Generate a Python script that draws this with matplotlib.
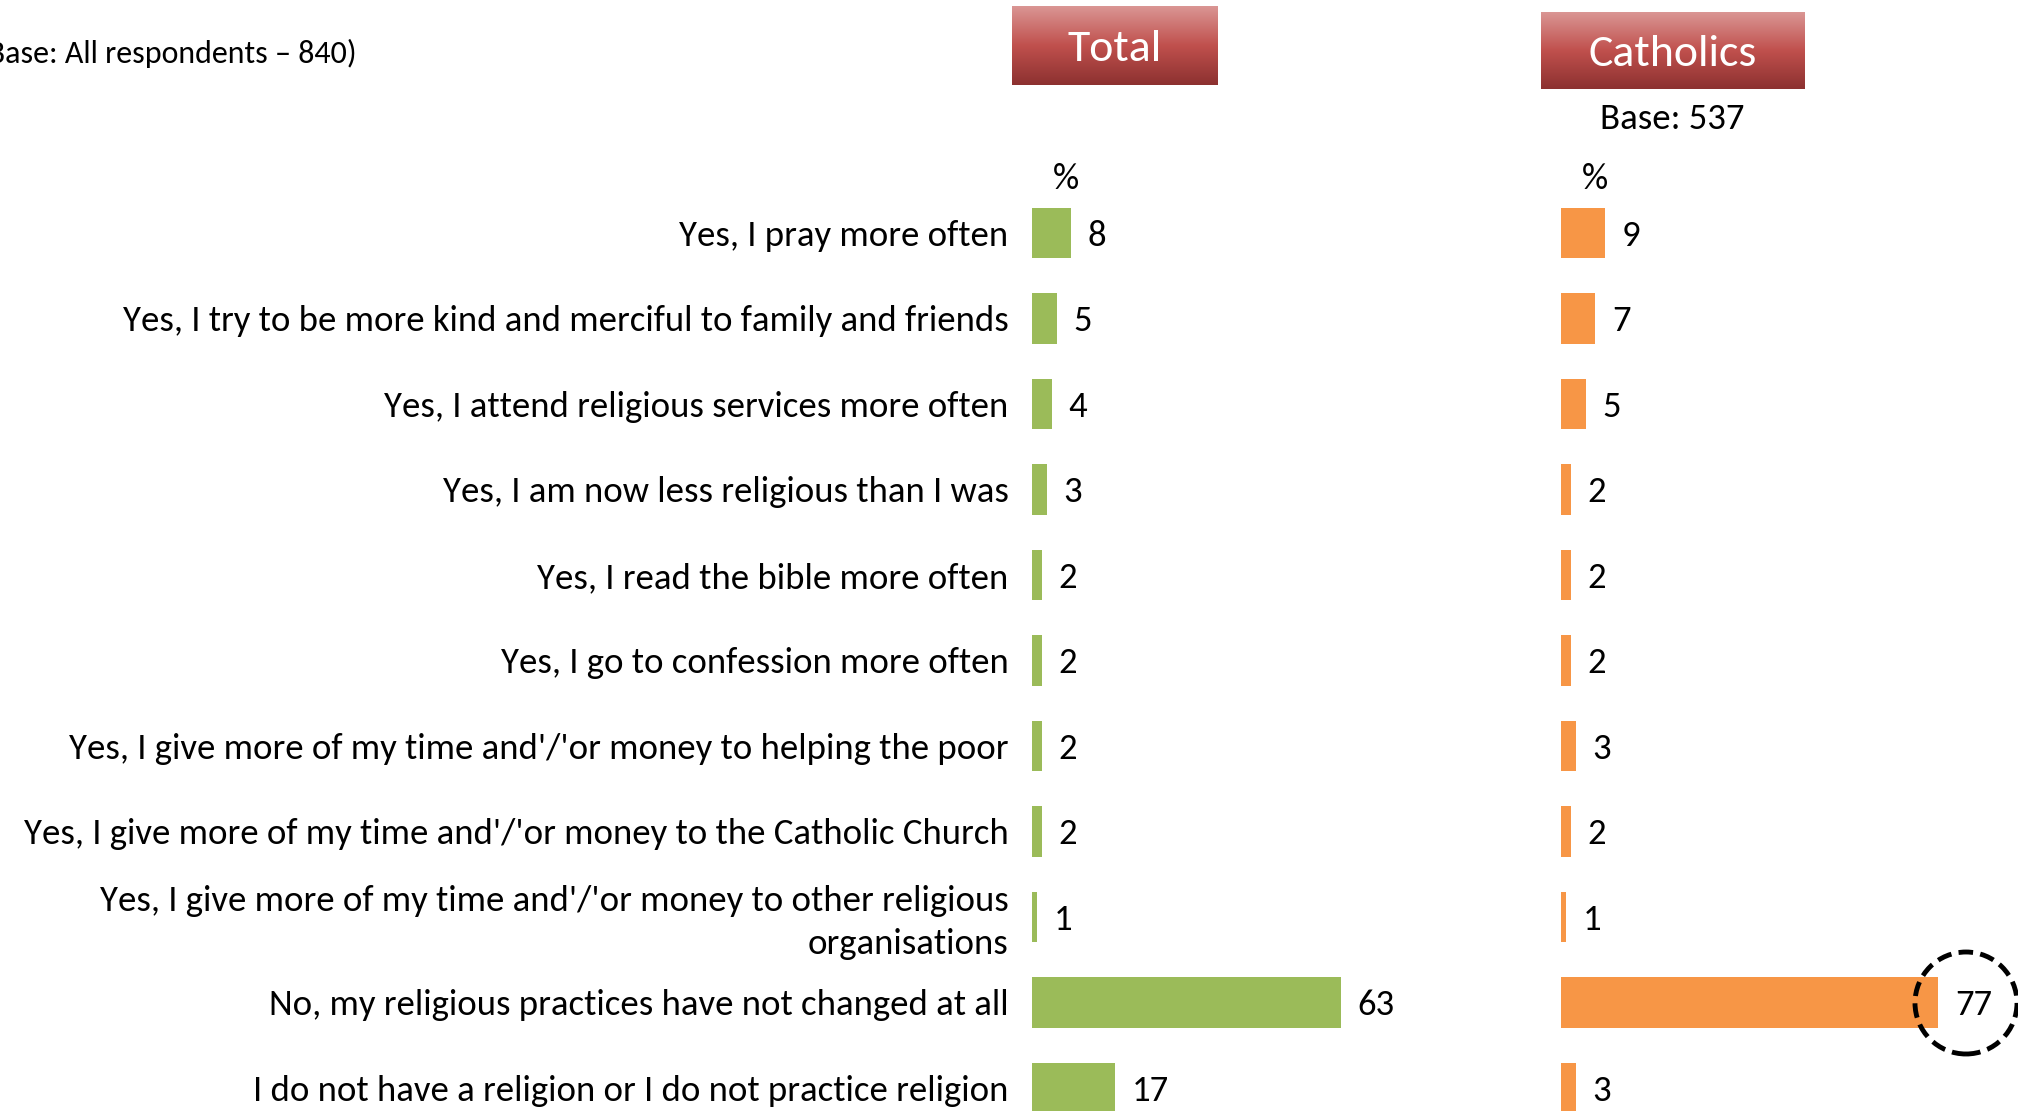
import numpy as np
import matplotlib
matplotlib.use("Agg")
import matplotlib.pyplot as plt
from matplotlib import font_manager
from matplotlib.patches import Ellipse

categories = [
    "Yes, I pray more often",
    "Yes, I try to be more kind and merciful to family and friends",
    "Yes, I attend religious services more often",
    "Yes, I am now less religious than I was",
    "Yes, I read the bible more often",
    "Yes, I go to confession more often",
    "Yes, I give more of my time and'/'or money to helping the poor",
    "Yes, I give more of my time and'/'or money to the Catholic Church",
    "Yes, I give more of my time and'/'or money to other religious\norganisations",
    "No, my religious practices have not changed at all",
    "I do not have a religion or I do not practice religion",
]
total = [8, 5, 4, 3, 2, 2, 2, 2, 1, 63, 17]
catholics = [9, 7, 5, 2, 2, 2, 3, 2, 1, 77, 3]

base_note = "(Base: All respondents \u2013 840)"
catholic_base = "Base: 537"

GREEN = "#9BBB59"
ORANGE = "#F79646"

names = {f.name for f in font_manager.fontManager.ttflist}
FONT = "Carlito" if "Carlito" in names else "Lato"
plt.rcParams["font.family"] = [FONT, "DejaVu Sans"]
FS = 26.5 if FONT == "Carlito" else 24
DY = -2  # small downward nudge so Lato sits like Calibri did

W, H = 2018, 1111
fig = plt.figure(figsize=(W / 100, H / 100), dpi=100)
fig.patch.set_facecolor("white")

px_per_unit = 4.9
row_top, row_step = 233, 85.5
y_top = -row_top / row_step
y_bot = (H - row_top) / row_step


def make_axes(left_px, right_px):
    ax = fig.add_axes([left_px / W, 0, (right_px - left_px) / W, 1])
    ax.set_xlim(0, (right_px - left_px) / px_per_unit)
    ax.set_ylim(y_bot, y_top)
    ax.axis("off")
    return ax


ax1 = make_axes(1032, 1500)
ax2 = make_axes(1561, W)
ypos = np.arange(len(categories))

for ax, vals, color in [(ax1, total, GREEN), (ax2, catholics, ORANGE)]:
    ax.barh(ypos, vals, height=0.585, color=color)
    for y, v in zip(ypos, vals):
        ax.annotate(str(v), xy=(v, y), xytext=(12, DY), textcoords="offset points",
                    ha="left", va="center", fontsize=FS)
    ax.annotate("%", xy=(0, y_top), xytext=(15, -129), textcoords="offset points",
                ha="left", va="center", fontsize=FS)

for y, lab in zip(ypos, categories):
    ax1.annotate(lab, xy=(0, y), xytext=(-17, DY - (2 if "\n" in lab else 0)),
                 textcoords="offset points", ha="right", va="center", ma="right",
                 fontsize=FS, linespacing=1.45, annotation_clip=False)

# header boxes with vertical red gradient
grad = np.linspace(0, 1, 256)[:, None]
cmap = matplotlib.colors.LinearSegmentedColormap.from_list(
    "hdr", ["#DA9694", "#C0504D", "#8C3130"])


def header(x0, x1, y0, y1, text):
    hax = fig.add_axes([x0 / W, 1 - y1 / H, (x1 - x0) / W, (y1 - y0) / H])
    hax.imshow(grad, aspect="auto", cmap=cmap, extent=(0, 1, 0, 1))
    hax.text(0.5, 0.45, text, color="white", fontsize=33, ha="center", va="center",
             transform=hax.transAxes)
    hax.axis("off")


header(1012, 1218, 6, 85, "Total")
header(1541, 1805, 12, 89, "Catholics")

fig.text(1672 / W, 1 - 119 / H, catholic_base, ha="center", va="center", fontsize=FS)
fig.text(-22 / W, 1 - 53 / H, base_note, ha="left", va="center", fontsize=23)

# dashed highlight around the Catholic "No" value
fig.add_artist(Ellipse((1966 / W, 1 - 1003 / H), 102 / W, 102 / H,
                       transform=fig.transFigure, fill=False, edgecolor="black",
                       linewidth=3.5, linestyle=(0, (3, 1.5))))

fig.savefig("out.png", dpi=100)
